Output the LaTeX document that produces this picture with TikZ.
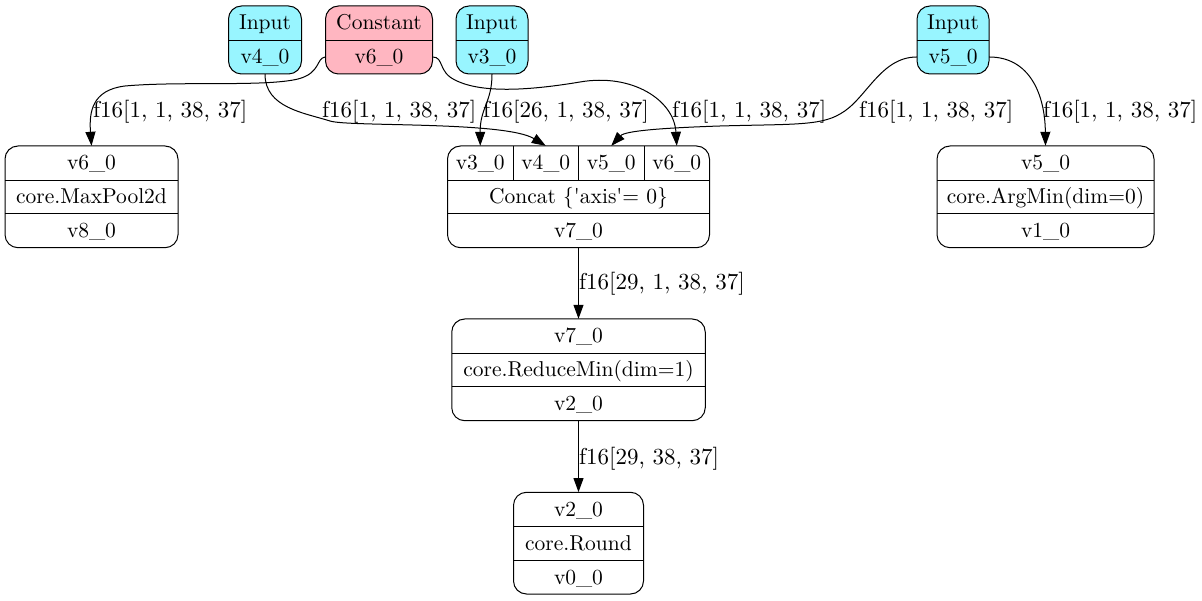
\documentclass[tikz,border=0pt]{standalone}
\usepackage{fontspec}
\setmainfont{lmroman10-regular.otf}
\usetikzlibrary{arrows.meta}
\definecolor{inputcol}{RGB}{152,245,255}
\definecolor{constcol}{RGB}{255,182,193}
\tikzset{
  frame/.style={draw=black, line width=1pt, rounded corners=13pt, inner sep=0pt},
  cell/.style={inner sep=0pt, text height=13.9pt, text depth=0pt, minimum height=33.9pt, font=\fontsize{21.5}{26}\selectfont},
  divider/.style={draw=black, line width=1pt},
  edge/.style={draw=black, line width=1pt, -{Triangle[length=14pt,width=10pt]}},
  elabel/.style={inner sep=0pt, anchor=west, text height=14.8pt, text depth=0pt, font=\fontsize{23}{27}\selectfont},
}
\begin{document}
\begin{tikzpicture}[x=1pt,y=-1pt]
\useasboundingbox (0,0) rectangle (1202,601);
\fill[white] (0,0) rectangle (1202,601);

% ---- top input / constant records ----
\node[frame, fill=inputcol, minimum width=73pt, minimum height=68pt] (in4) at (265,40) {};
\node[cell, minimum width=73pt, minimum height=34pt] (in4a) at (265,23) {Input};
\node[cell, minimum width=73pt, minimum height=34pt] (in4b) at (265,57) {v4\_0};
\draw[divider] (in4a.south west) -- (in4a.south east);

\node[frame, fill=constcol, minimum width=107pt, minimum height=68pt] (cst) at (379,40) {};
\node[cell, minimum width=107pt, minimum height=34pt] (csta) at (379,23) {Constant};
\node[cell, minimum width=107pt, minimum height=34pt] (cstb) at (379,57) {v6\_0};
\draw[divider] (csta.south west) -- (csta.south east);

\node[frame, fill=inputcol, minimum width=72pt, minimum height=68pt] (in3) at (492,40) {};
\node[cell, minimum width=72pt, minimum height=34pt] (in3a) at (492,23) {Input};
\node[cell, minimum width=72pt, minimum height=34pt] (in3b) at (492,57) {v3\_0};
\draw[divider] (in3a.south west) -- (in3a.south east);

\node[frame, fill=inputcol, minimum width=72pt, minimum height=68pt] (in5) at (953,40) {};
\node[cell, minimum width=72pt, minimum height=34pt] (in5a) at (953,23) {Input};
\node[cell, minimum width=72pt, minimum height=34pt] (in5b) at (953,57) {v5\_0};
\draw[divider] (in5a.south west) -- (in5a.south east);

% ---- MaxPool ----
\node[frame, minimum width=173pt, minimum height=101.7pt] (mp) at (91.5,196.85) {};
\node[cell, minimum width=173pt] (mp1) at (91.5,162.95) {v6\_0};
\node[cell, minimum width=173pt] (mp2) at (91.5,196.85) {core.MaxPool2d};
\node[cell, minimum width=173pt] (mp3) at (91.5,230.75) {v8\_0};
\draw[divider] (mp1.south west) -- (mp1.south east);
\draw[divider] (mp2.south west) -- (mp2.south east);

% ---- Concat ----
\node[frame, minimum width=262pt, minimum height=101.7pt] (cc) at (578.5,196.85) {};
\node[cell, minimum width=65.5pt] (p3) at (480.25,162.95) {v3\_0};
\node[cell, minimum width=65.5pt] (p4) at (545.75,162.95) {v4\_0};
\node[cell, minimum width=65.5pt] (p5) at (611.25,162.95) {v5\_0};
\node[cell, minimum width=65.5pt] (p6) at (676.75,162.95) {v6\_0};
\node[cell, minimum width=262pt] (cc2) at (578.5,196.85) {Concat \{\textquotesingle axis\textquotesingle= 0\}};
\node[cell, minimum width=262pt] (cc3) at (578.5,230.75) {v7\_0};
\draw[divider] (p3.south west) -- (p6.south east);
\draw[divider] (cc2.south west) -- (cc2.south east);
\draw[divider] (p3.north east) -- (p3.south east);
\draw[divider] (p4.north east) -- (p4.south east);
\draw[divider] (p5.north east) -- (p5.south east);

% ---- ArgMin ----
\node[frame, minimum width=217pt, minimum height=101.7pt] (am) at (1045.5,196.85) {};
\node[cell, minimum width=217pt] (am1) at (1045.5,162.95) {v5\_0};
\node[cell, minimum width=217pt] (am2) at (1045.5,196.85) {core.ArgMin(dim=0)};
\node[cell, minimum width=217pt] (am3) at (1045.5,230.75) {v1\_0};
\draw[divider] (am1.south west) -- (am1.south east);
\draw[divider] (am2.south west) -- (am2.south east);

% ---- ReduceMin ----
\node[frame, minimum width=253.5pt, minimum height=101.7pt] (rm) at (578.5,369.85) {};
\node[cell, minimum width=253.5pt] (rm1) at (578.5,335.95) {v7\_0};
\node[cell, minimum width=253.5pt] (rm2) at (578.5,369.85) {core.ReduceMin(dim=1)};
\node[cell, minimum width=253.5pt] (rm3) at (578.5,403.75) {v2\_0};
\draw[divider] (rm1.south west) -- (rm1.south east);
\draw[divider] (rm2.south west) -- (rm2.south east);

% ---- Round ----
\node[frame, minimum width=130pt, minimum height=101.7pt] (rd) at (578.5,543.15) {};
\node[cell, minimum width=130pt] (rd1) at (578.5,509.25) {v2\_0};
\node[cell, minimum width=130pt] (rd2) at (578.5,543.15) {core.Round};
\node[cell, minimum width=130pt] (rd3) at (578.5,577.05) {v0\_0};
\draw[divider] (rd1.south west) -- (rd1.south east);
\draw[divider] (rd2.south west) -- (rd2.south east);

% ---- edges ----
\draw[edge] (cstb.west) .. controls (316,58) and (321,73) .. (298,79)
   .. controls (265,87) and (180,81) .. (125,86)
   .. controls (92,90) and (89,112) .. (mp1.north);
\draw[edge] (in4b.south) .. controls (265,108) and (305,113) .. (330,121)
   .. controls (348,127) and (505,121) .. (p4.north);
\draw[edge] (in3b.south) .. controls (492,102) and (480,108) .. (p3.north);
\draw[edge] (cstb.east) .. controls (444,57) and (438,72) .. (455,80)
   .. controls (482,94) and (532,90) .. (580,82)
   .. controls (632,73) and (674,100) .. (p6.north);
\draw[edge] (in5b.west) .. controls (880,57) and (866,100) .. (840,114)
   .. controls (820,126) and (790,124) .. (720,126)
   .. controls (660,128) and (625,131) .. (p5.north);
\draw[edge] (in5b.east) .. controls (1030,57) and (1045,95) .. (am1.north);
\draw[edge] (cc3.south) -- (rm1.north);
\draw[edge] (rm3.south) -- (rd1.north);

% ---- edge labels ----
\node[elabel] (l1) at (93,110) {f16[1, 1, 38, 37]};
\node[elabel] (l2) at (322,110) {f16[1, 1, 38, 37]};
\node[elabel] (l3) at (483,110) {f16[26, 1, 38, 37]};
\node[elabel] (l4) at (672,110) {f16[1, 1, 38, 37]};
\node[elabel] (l5) at (859,110) {f16[1, 1, 38, 37]};
\node[elabel] (l6) at (1043,110) {f16[1, 1, 38, 37]};
\node[elabel] (l7) at (579,282) {f16[29, 1, 38, 37]};
\node[elabel] (l8) at (579,457) {f16[29, 38, 37]};
\end{tikzpicture}
\end{document}
